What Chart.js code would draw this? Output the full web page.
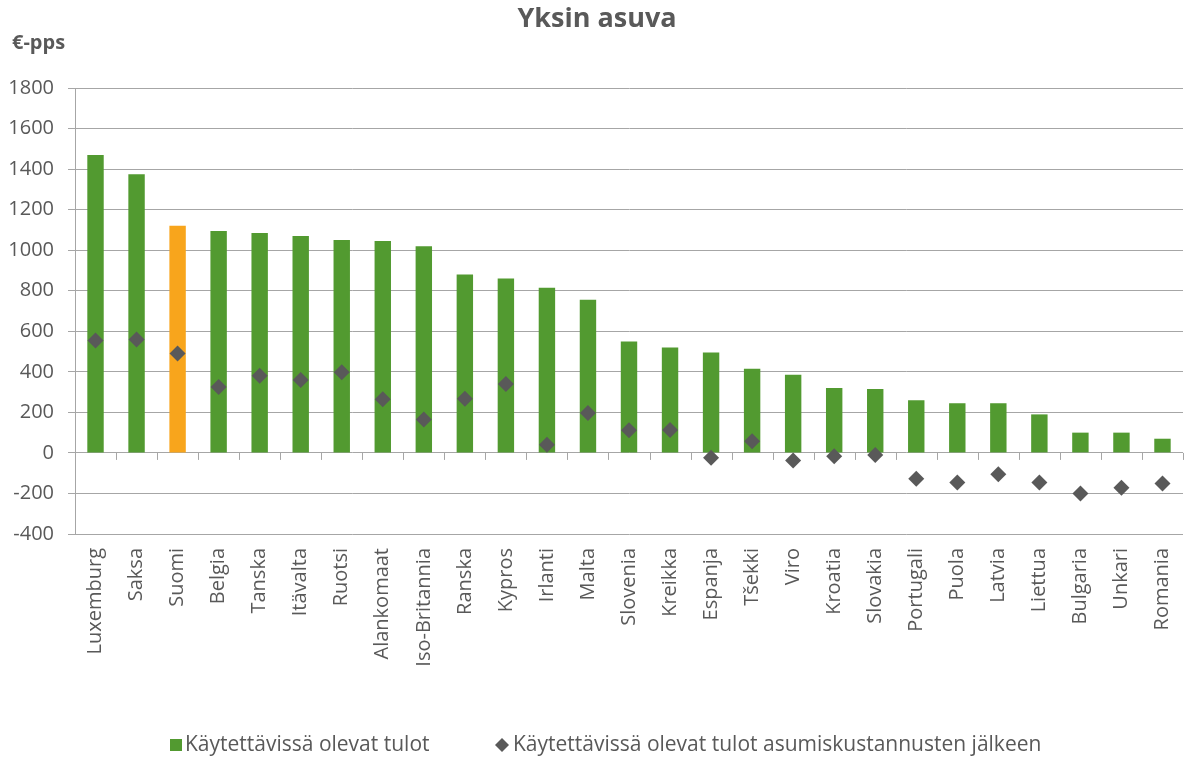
<!DOCTYPE html>
<html lang="fi">
<head>
    <meta charset="UTF-8">
    <title>Yksin asuva</title>
    <script src="https://cdn.jsdelivr.net/npm/chart.js"></script>
    <style>
        body {
            margin: 0;
            background: #fff;
        }
    </style>
</head>
<body>
    <canvas id="chart" width="1186" height="760"></canvas>

    <script>
        // Data
        const countries = ['Luxemburg', 'Saksa', 'Suomi', 'Belgia', 'Tanska', 'Itävalta', 'Ruotsi', 'Alankomaat',
            'Iso-Britannia', 'Ranska', 'Kypros', 'Irlanti', 'Malta', 'Slovenia', 'Kreikka', 'Espanja', 'Tšekki',
            'Viro', 'Kroatia', 'Slovakia', 'Portugali', 'Puola', 'Latvia', 'Liettua', 'Bulgaria', 'Unkari', 'Romania'];
        const income = [1470, 1375, 1120, 1095, 1085, 1070, 1050, 1045, 1020, 880, 860, 815, 755, 550, 520, 495, 415,
            385, 320, 315, 260, 245, 245, 190, 100, 100, 70];
        const afterHousing = [555, 560, 490, 325, 380, 360, 398, 265, 165, 267, 340, 40, 197, 112, 113, -24, 57,
            -38, -16, -10, -128, -146, -105, -146, -200, -172, -151];
        const yMin = -400;
        const yMax = 1800;
        const yStep = 200;
        const highlight = 'Suomi';

        const seriesNames = ['Käytettävissä olevat tulot', 'Käytettävissä olevat tulot asumiskustannusten jälkeen'];

        const GREEN = '#529a30';
        const ORANGE = '#f8a51c';
        const DARK = '#595959';
        const GRID = '#a6a6a6';
        const FONT = '"Open Sans", sans-serif';

        // draws the title, unit label, zero-line tick marks and legend
        const extras = {
            id: 'extras',
            beforeDatasetsDraw(chart) {
                const ctx = chart.ctx;
                const x = chart.scales.x;
                const y = chart.scales.y;
                const zero = y.getPixelForValue(0);
                const half = (x.getPixelForValue(1) - x.getPixelForValue(0)) / 2;
                ctx.save();
                ctx.strokeStyle = GRID;
                ctx.lineWidth = 1;
                for (let i = 1; i <= countries.length; i++) {
                    const px = Math.round(x.getPixelForValue(i - 1) + half) + 0.5;
                    ctx.beginPath();
                    ctx.moveTo(px, zero);
                    ctx.lineTo(px, zero + 7);
                    ctx.stroke();
                }
                ctx.restore();
            },
            afterDraw(chart) {
                const ctx = chart.ctx;
                ctx.save();
                ctx.fillStyle = DARK;
                ctx.textBaseline = 'middle';

                ctx.font = 'bold 27px ' + FONT;
                ctx.textAlign = 'center';
                ctx.fillText('Yksin asuva', 597, 19);

                ctx.font = 'bold 20px ' + FONT;
                ctx.textAlign = 'left';
                ctx.fillText('€-pps', 12, 43);

                // legend
                const ly = 745;
                ctx.font = '21px ' + FONT;
                ctx.fillStyle = GREEN;
                ctx.fillRect(170, ly - 6, 12, 12);
                ctx.fillStyle = DARK;
                ctx.fillText(seriesNames[0], 185, ly);

                ctx.beginPath();
                ctx.moveTo(502, ly - 7);
                ctx.lineTo(509, ly);
                ctx.lineTo(502, ly + 7);
                ctx.lineTo(495, ly);
                ctx.closePath();
                ctx.fill();
                ctx.fillText(seriesNames[1], 513, ly);
                ctx.restore();
            }
        };

        const ctx = document.getElementById('chart').getContext('2d');
        new Chart(ctx, {
            type: 'bar',
            data: {
                labels: countries,
                datasets: [{
                    label: seriesNames[0],
                    data: income,
                    backgroundColor: countries.map(c => c === highlight ? ORANGE : GREEN),
                    barPercentage: 0.4,
                    categoryPercentage: 1,
                    order: 1
                }, {
                    type: 'line',
                    label: seriesNames[1],
                    data: afterHousing,
                    showLine: false,
                    pointStyle: 'rectRot',
                    pointRadius: 8,
                    pointBackgroundColor: DARK,
                    pointBorderColor: DARK,
                    pointBorderWidth: 0,
                    order: 0
                }]
            },
            options: {
                responsive: false,
                animation: false,
                devicePixelRatio: 1,
                layout: {
                    autoPadding: false,
                    padding: { left: 0, right: 3, top: 88, bottom: 0 }
                },
                plugins: {
                    legend: { display: false },
                    title: { display: false },
                    tooltip: { enabled: false }
                },
                scales: {
                    x: {
                        grid: { display: false, drawTicks: false },
                        border: { display: false },
                        ticks: {
                            color: DARK,
                            font: { family: FONT, size: 20 },
                            minRotation: 90,
                            maxRotation: 90,
                            autoSkip: false,
                            padding: 14
                        },
                        afterFit(scale) {
                            scale.height = 226;
                            scale.paddingLeft = 0;
                            scale.paddingRight = 0;
                        }
                    },
                    y: {
                        min: yMin,
                        max: yMax,
                        grid: { color: GRID, lineWidth: 1, tickLength: 7 },
                        border: { color: GRID, width: 1 },
                        ticks: {
                            stepSize: yStep,
                            color: DARK,
                            font: { family: FONT, size: 20 },
                            padding: 14,
                            callback: v => String(v)
                        },
                        afterFit(scale) {
                            scale.width = 75;
                            scale.paddingTop = 0;
                            scale.paddingBottom = 0;
                        }
                    }
                }
            },
            plugins: [extras]
        });
    </script>
</body>
</html>
